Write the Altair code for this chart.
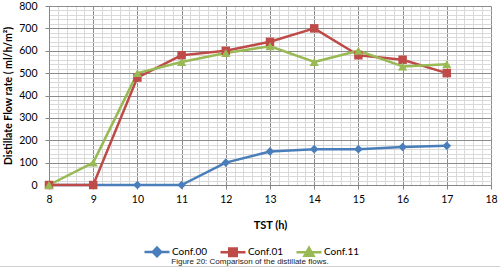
import altair as alt
import pandas as pd

# ---- data ----
hours = [8, 9, 10, 11, 12, 13, 14, 15, 16, 17]
conf_00 = [0, 0, 0, 0, 100, 150, 160, 160, 170, 175]
conf_01 = [0, 0, 480, 580, 600, 640, 700, 580, 560, 500]
conf_11 = [0, 100, 500, 550, 590, 620, 550, 600, 530, 540]
series = ["Conf.00", "Conf.01", "Conf.11"]
line_colors = ["#4A7EBB", "#BE4B48", "#98B954"]
marker_shapes = ["diamond", "square", "triangle-up"]
marker_sizes = [75, 72, 85]
x_major = [8, 9, 10, 11, 12, 13, 14, 15, 16, 17, 18]
y_major = [0, 100, 200, 300, 400, 500, 600, 700, 800]
caption = "Figure 20: Comparison of the distillate flows."

# minor grid positions (5 per hour, 5 per 100)
x_grid = [round(x_major[0] + 0.2 * i, 1) for i in range(5 * (len(x_major) - 1) + 1)]
y_grid = list(range(y_major[0], y_major[-1] + 1, 20))

rows = []
for name, vals in zip(series, [conf_00, conf_01, conf_11]):
    for h, v in zip(hours, vals):
        rows.append({"TST": h, "Flow": v, "Series": name})
df = pd.DataFrame(rows)

FONT = "Lato"
x_major_test = "abs(datum.value - round(datum.value)) < 0.001"
y_major_test = "abs(datum.value % 100) < 0.001"

x_axis = alt.Axis(
    values=x_grid,
    title="TST (h)",
    labelExpr=f"{x_major_test} ? format(round(datum.value), 'd') : ''",
    gridColor={"condition": {"test": x_major_test, "value": "#8C8C8C"}, "value": "#D9D9D9"},
    tickOpacity={"condition": {"test": x_major_test, "value": 1}, "value": 0},
    tickSize=4,
    labelPadding=5,
    labelFlush=False,
    labelOverlap=False,
    titlePadding=15,
    domainColor="#868686",
    tickColor="#868686",
)
y_axis = alt.Axis(
    values=y_grid,
    title="Distillate Flow rate ( ml/h/m²)",
    titleFontSize=10.5,
    labelExpr=f"{y_major_test} ? datum.label : ''",
    gridColor={"condition": {"test": y_major_test, "value": "#8C8C8C"}, "value": "#D9D9D9"},
    tickOpacity={"condition": {"test": y_major_test, "value": 1}, "value": 0},
    tickSize=4,
    labelPadding=8,
    labelOverlap=False,
    titlePadding=5,
    domainColor="#868686",
    tickColor="#868686",
)
x_scale = alt.Scale(domain=[x_major[0], x_major[-1]], nice=False, zero=False)
y_scale = alt.Scale(domain=[y_major[0], y_major[-1]], nice=False)


def xy():
    return dict(
        x=alt.X("TST:Q", scale=x_scale, axis=x_axis),
        y=alt.Y("Flow:Q", scale=y_scale, axis=y_axis),
    )


# data-driven (alphabetical) domain -> same order as `series`
color_scale = alt.Scale(range=line_colors)

lines = alt.Chart(df).mark_line(strokeWidth=2.5, strokeJoin="round").encode(
    color=alt.Color("Series:N", scale=color_scale, legend=None), **xy()
)

point_layers = []
for name, shp, sz in zip(series, marker_shapes, marker_sizes):
    point_layers.append(
        alt.Chart(df).transform_filter(alt.datum.Series == name)
        .mark_point(filled=True, opacity=1, shape=shp, size=sz)
        .encode(color=alt.Color("Series:N", scale=color_scale, legend=None), **xy())
    )

legend_paths = [
    "M-1,0L1,0M0,-0.34L0.34,0L0,0.34L-0.34,0Z",
    "M-1,0L1,0M-0.3,-0.3L0.3,-0.3L0.3,0.3L-0.3,0.3Z",
    "M-1,0L1,0M0,-0.36L0.36,0.28L-0.36,0.28Z",
]
legend_def = alt.Legend(
    orient="none", legendX=94, legendY=231.5, direction="horizontal", title=None,
    symbolSize=625, symbolStrokeWidth=2.5, symbolOpacity=1, labelFont=FONT, labelFontSize=10,
    labelOffset=1, columnPadding=8, labelColor="#000000",
)
legend_layer = alt.Chart(df).mark_point(
    filled=True, strokeWidth=2.5, opacity=0
).encode(
    fill=alt.Fill("Series:N", scale=alt.Scale(domain=series, range=line_colors), legend=legend_def),
    stroke=alt.Stroke("Series:N", scale=alt.Scale(domain=series, range=line_colors), legend=legend_def),
    shape=alt.Shape("Series:N", scale=alt.Scale(domain=series, range=legend_paths), legend=legend_def),
    **xy()
)

caption_layer = alt.Chart(pd.DataFrame({"caption": [caption]})).mark_text(
    font="Liberation Sans", fontSize=8, color="#222222", baseline="middle", align="center"
).encode(text="caption:N", x=alt.value(201), y=alt.value(256))

bottom_rule = alt.Chart(pd.DataFrame({"caption": [caption]})).mark_rule(
    color="#D0D0D0", strokeWidth=1
).encode(x=alt.value(-49), x2=alt.value(451), y=alt.value(260.5))

chart = alt.layer(lines, *point_layers, legend_layer, caption_layer, bottom_rule).properties(
    width=442, height=179,
    autosize=alt.AutoSizeParams(type="none"),
    padding={"left": 49, "top": 6, "right": 9, "bottom": 83},
).configure_view(stroke=None).configure_axis(
    labelFont=FONT, labelFontSize=10.5, labelColor="#000000",
    titleFont=FONT, titleFontSize=11, titleFontWeight="bold", titleColor="#000000",
    gridWidth=1,
)

chart.save("out.html", embed_options={"renderer": "svg", "actions": False})
